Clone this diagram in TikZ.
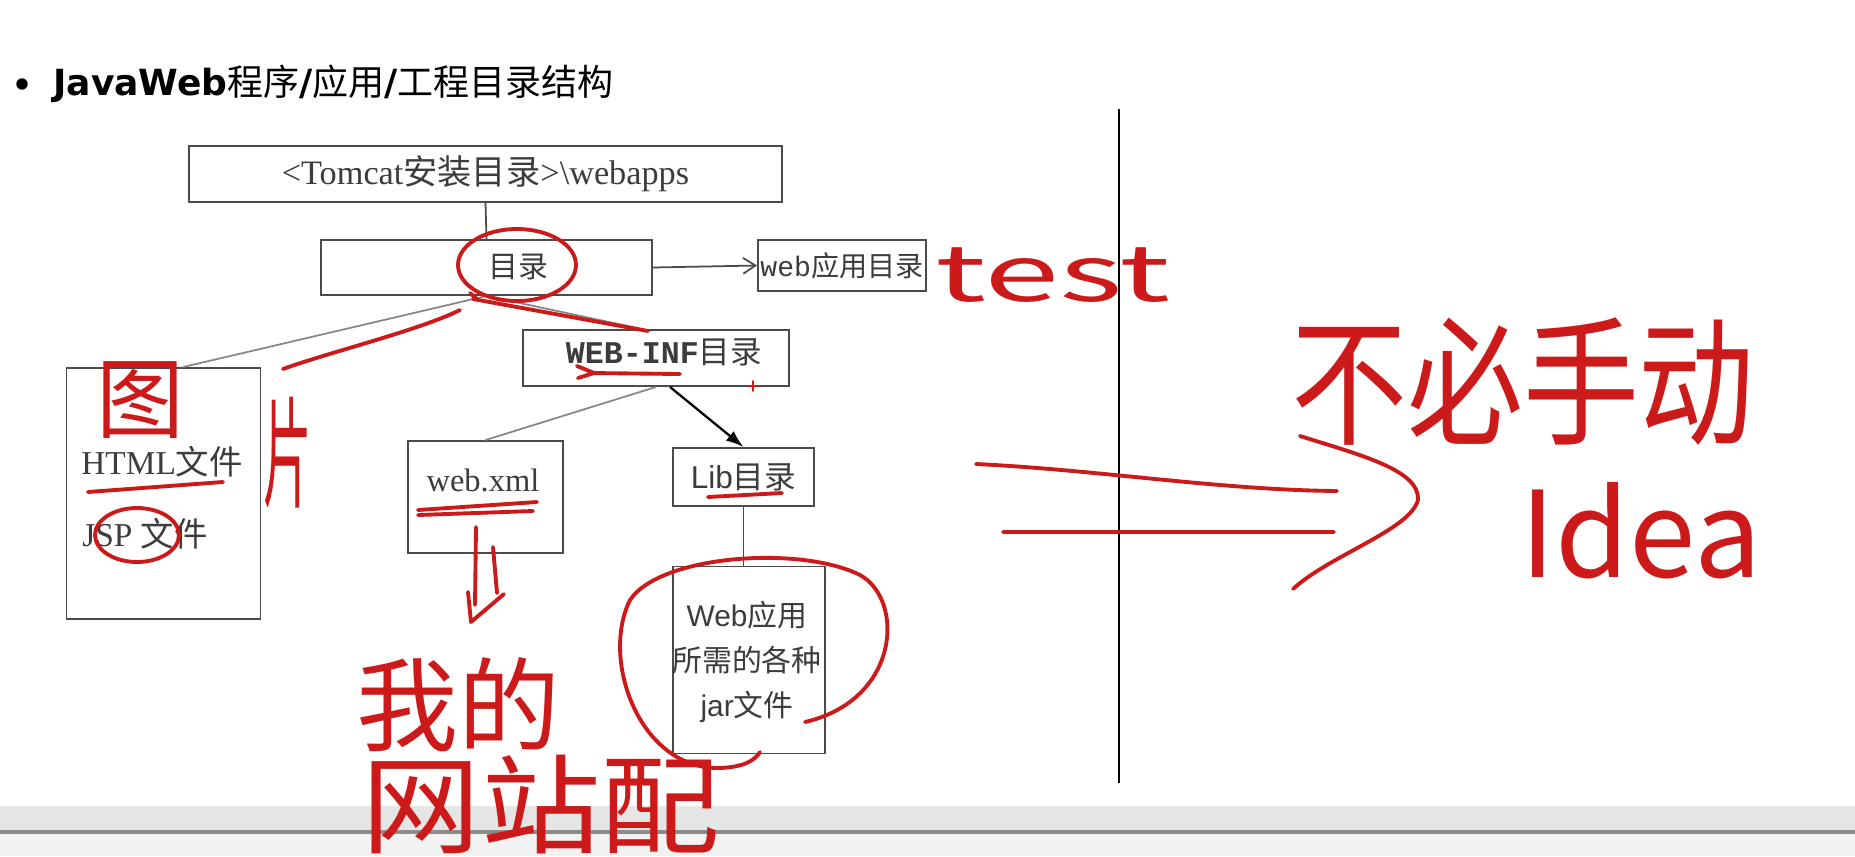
\documentclass[tikz,border=0pt]{standalone}
\usepackage{fontspec}
\setmainfont{Liberation Serif}
\setsansfont{Liberation Sans}
\setmonofont{Liberation Mono}
\newfontfamily\cjk{Noto Sans CJK SC}
\newfontfamily\titlefont{DejaVu Sans}
\usetikzlibrary{arrows.meta}
\definecolor{inkred}{RGB}{204,26,26}
\definecolor{boxgray}{RGB}{75,75,75}
\definecolor{linkgray}{RGB}{135,135,135}
\definecolor{txtgray}{RGB}{60,60,60}
\begin{document}
\begin{tikzpicture}[x=0.02cm,y=-0.02cm,
	box/.style={draw=boxgray,line width=1.1pt,inner sep=0pt,text=txtgray,font=\fontsize{18}{21}\selectfont},
	boxtext/.style={text=txtgray,inner sep=0pt,font=\fontsize{19}{22}\selectfont},
	link/.style={draw=linkgray,line width=1pt},
	ink/.style={draw=inkred,line width=2.2pt,line cap=round,line join=round},
	hand/.style={text=inkred,inner sep=0pt,font=\cjk\fontsize{#1}{#1}\selectfont}]
	\fill[white] (0,0) rectangle (1855,856);
	\useasboundingbox (0,0) rectangle (1855,856);
	\fill[black!10] (0,806) rectangle (1855,830);
	\fill[black!45] (0,830) rectangle (1855,834);
	\fill[black!5] (0,834) rectangle (1855,856);
	\node[circle,fill=black,inner sep=0pt,minimum size=6.5pt] (bullet) at (22,84) {};
	\node[anchor=west,inner sep=0pt] (title) at (53,84) {\fontsize{20.5}{24}\selectfont\titlefont\bfseries JavaWeb{\mdseries\cjk 程序}/{\mdseries\cjk 应用}/{\mdseries\cjk 工程目录结构}};
	\node[box,minimum width=11.86cm,minimum height=1.12cm,font=\fontsize{19.5}{22}\selectfont] (tomcat) at (485.5,174) {<Tomcat{\cjk 安装目录}>\textbackslash webapps};
	\node[box,minimum width=6.62cm,minimum height=1.1cm] (dir) at (486.5,267.5) {};
	\node[boxtext,font=\fontsize{17}{20}\selectfont] (dirlabel) at (518,267) {\cjk 目录};
	\node[box,minimum width=3.36cm,minimum height=1.02cm,font=\fontsize{16}{19}\selectfont] (webapp) at (842,265.5) {\ttfamily web{\cjk 应用目录}};
	\node[box,minimum width=5.32cm,minimum height=1.12cm] (webinf) at (656,358) {};
	\node[boxtext,font=\fontsize{18}{21}\selectfont] (webinflabel) at (664,352) {\ttfamily\bfseries WEB-INF{\mdseries\cjk 目录}};
	\node[box,minimum width=3.88cm,minimum height=5.02cm] (html) at (163.5,493.5) {};
	\node[boxtext] (htmllabel) at (162,462) {HTML{\cjk 文件}};
	\node[boxtext] (jsplabel) at (145,534) {JSP {\cjk 文件}};
	\node[box,minimum width=3.1cm,minimum height=2.24cm] (webxml) at (485.5,497) {};
	\node[boxtext,font=\fontsize{18.5}{22}\selectfont] (webxmllabel) at (483,480) {web.xml};
	\node[box,minimum width=2.82cm,minimum height=1.16cm] (lib) at (743.5,477) {\sffamily Lib{\cjk 目录}};
	\node[box,minimum width=3.04cm,minimum height=3.74cm] (jar) at (749,660) {};
	\node[boxtext,align=center,font=\sffamily\fontsize{17}{25.5}\selectfont] (jarlabel) at (747,662) {Web{\cjk 应用}\\{\cjk 所需的各种}\\jar{\cjk 文件}};
	\draw[boxgray,line width=1pt] (tomcat.south) -- (dir.north);
	\draw[boxgray,line width=1pt,-{Straight Barb[length=7pt,width=9pt]}] (dir.east) -- (webapp.west);
	\draw[link] (dir.south) -- ([xshift=0.39cm]html.north);
	\draw[link] (dir.south) -- ([xshift=-0.28cm]webinf.north);
	\draw[link] (webinf.south) -- (webxml.north);
	\draw[black,line width=1.3pt,-{Latex[length=10pt,width=7pt]}] ([xshift=0.28cm]webinf.south) -- (lib.north);
	\draw[boxgray,line width=1pt] (lib.south) -- (lib.south |- jar.north);
	\coordinate (septop) at (1119,109);
	\coordinate (sepbot) at (1119,783);
	\draw[black,line width=1.1pt] (septop) -- (sepbot);
	\draw[ink] (517,265) ellipse [x radius=1.18cm,y radius=0.72cm];
	\draw[ink] (470,293) -- (478,300) (473,299) -- (648,331);
	\draw[ink] (283,369) .. controls (330,352) and (420,330) .. (460,310);
	\draw[ink] (88,492) -- (223,482);
	\draw[ink] (137,535) ellipse [x radius=0.84cm,y radius=0.54cm];
	\draw[ink] (577,366) -- (594,373) -- (578,378) (590,373) -- (680,374);
	\draw[ink,line width=1pt] (748,386) -- (758,386) (753,381) -- (753,391);
	\draw[ink] (418,510) -- (537,502) (418,515) -- (533,511);
	\draw[ink] (476,527) -- (475,605) (493,547) -- (497,593) (468,592) -- (471,622) -- (504,594);
	\draw[ink] (708,497) -- (782,493);
	\draw[ink] (805,722) .. controls (900,700) and (905,600) .. (860,575) .. controls (800,545) and (660,555) .. (630,600) .. controls (600,660) and (640,770) .. (720,768) .. controls (745,767) and (755,760) .. (760,752);
	\draw[ink] (976,464) .. controls (1100,470) and (1220,490) .. (1337,491) (1003,532) -- (1334,532);
	\draw[ink] (1300,436) .. controls (1360,455) and (1420,470) .. (1418,500) .. controls (1410,530) and (1330,555) .. (1293,589);
	\node[hand=50] (tu) at (140,400) {图};
	\node[hand=55] (pian) at (288,453) {\scalebox{0.5}[1.25]{片}};
	\node[hand=44] (test) at (1053,275) {\scalebox{1.75}[1]{test}};
	\node[hand=66] (nohand) at (1523,382) {\scalebox{1}[1.2]{不必手动}};
	\node[hand=68] (idea) at (1641,531) {Idea};
	\node[hand=58] (mine) at (458,705) {我的};
	\node[hand=68] (site) at (541,805) {\scalebox{1}[0.9]{网站配}};
\end{tikzpicture}
\end{document}
